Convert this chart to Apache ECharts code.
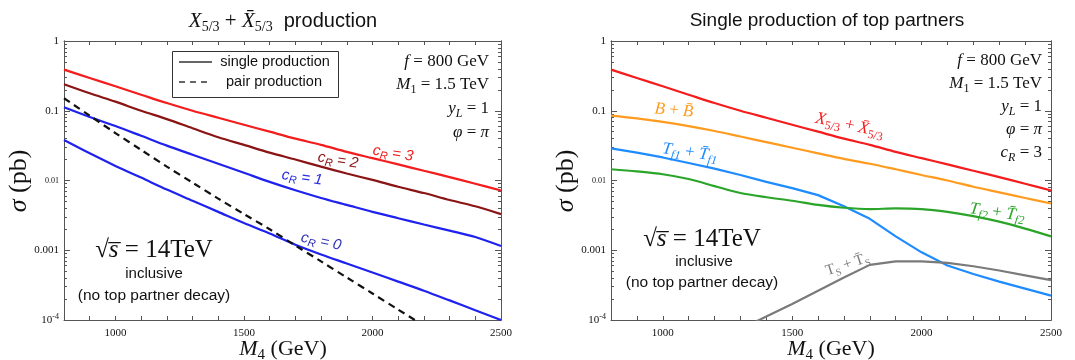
<!DOCTYPE html>
<html>
<head>
<meta charset="utf-8">
<script src="https://cdn.jsdelivr.net/npm/echarts@6/dist/echarts.min.js"></script>
<style>
  html, body { margin: 0; padding: 0; background: #fff; }
  #chart { width: 1075px; height: 360px; }
</style>
</head>
<body>
<div id="chart"></div>
<script>
// Heavy top-partner mass M4 (GeV)
const massGeV = [800, 900, 1000, 1100, 1200, 1300, 1400, 1500, 1600, 1700, 1800, 1900, 2000, 2100, 2200, 2300, 2400, 2500];

// X5/3 + anti-X5/3 single production cross sections (pb) for c_R = 3, 2, 1, 0
const xSingleCR3 = [0.389, 0.295, 0.224, 0.170, 0.129, 0.100, 0.0794, 0.0631, 0.0501, 0.0398, 0.0324, 0.0257, 0.0209, 0.0170, 0.0138, 0.0112, 0.0090, 0.0072];
const xSingleCR2 = [0.240, 0.178, 0.135, 0.100, 0.0759, 0.0562, 0.0417, 0.0324, 0.0251, 0.0200, 0.0158, 0.0126, 0.0102, 0.00813, 0.00661, 0.00525, 0.00427, 0.00330];
const xSingleCR1 = [0.112, 0.0813, 0.0603, 0.0437, 0.0316, 0.0234, 0.0174, 0.0129, 0.00955, 0.00724, 0.00562, 0.00447, 0.00355, 0.00288, 0.00234, 0.00191, 0.00155, 0.00115];
const xSingleCR0 = [0.0380, 0.0245, 0.0162, 0.0110, 0.00741, 0.00513, 0.00355, 0.00245, 0.00174, 0.00120, 0.000871, 0.000646, 0.000479, 0.000355, 0.000263, 0.000191, 0.000138, 0.000100];
// X5/3 pair production (pb)
const xPair = [0.151, 0.0851, 0.0479, 0.0275, 0.0158, 0.00933, 0.00550, 0.00331, 0.00200, 0.00117, 0.000692, 0.000407, 0.000240, 0.000141, 0.0000832, null, null, null];

// Single production of the other partners (pb), c_R = 3
const bSingle = [0.0851, 0.0776, 0.0692, 0.0603, 0.0513, 0.0427, 0.0355, 0.0295, 0.0245, 0.0204, 0.0174, 0.0145, 0.0120, 0.0100, 0.00813, 0.00676, 0.00562, 0.00468];
const tf1Single = [0.0288, 0.0251, 0.0214, 0.0178, 0.0148, 0.0120, 0.00955, 0.00776, 0.00617, 0.00427, 0.00282, 0.00158, 0.000933, 0.000603, 0.000457, 0.000355, 0.000282, 0.000224];
const tf2Single = [0.0145, 0.0135, 0.0123, 0.0105, 0.00832, 0.00661, 0.00575, 0.00513, 0.00447, 0.00407, 0.00389, 0.00398, 0.00389, 0.00355, 0.00309, 0.00257, 0.00204, 0.00158];
const tsSingle = [null, null, null, null, null, 0.000074, 0.000112, 0.000170, 0.000263, 0.000407, 0.000617, 0.000692, 0.000692, 0.000661, 0.000589, 0.000513, 0.000437, 0.000372];

// Axis ticks
const xTickLabels = [1000, 1500, 2000, 2500];
const yTickValues = [1e-4, 1e-3, 1e-2, 1e-1, 1];

const yMinorTicks = [];
for (let k = -4; k < 0; k++) {
  for (let d = 2; d <= 9; d++) yMinorTicks.push(d * Math.pow(10, k));
}

const SERIF = 'Liberation Serif';
const SANS = 'Liberation Sans';
const FRAME = '#555';

const COLORS = {
  cr3: '#f41c1c',
  cr2: '#8a1414',
  cr1: '#1f22ee',
  cr0: '#1f22ee',
  pair: '#111111',
  b: '#ff9b1e',
  tf1: '#1e8bff',
  tf2: '#2aa52a',
  ts: '#7a7a7a'
};

function pairs(values) {
  return massGeV.map((m, i) => [m, values[i]]);
}

function yLabelFormatter(v) {
  const e = Math.round(Math.log10(v));
  if (e === 0) return '1';
  if (e === -1) return '0.1';
  if (e === -2) return '{sm|0.01}';
  if (e === -3) return '0.001';
  return '{b|10}{sup|-4}';
}

function xAxesFor(g) {
  const common = {
    gridIndex: g, type: 'value', min: 800, max: 2500, interval: 100,
    axisLine: { show: true, onZero: false, lineStyle: { color: FRAME, width: 1 } },
    axisTick: { show: true, inside: true, length: 4, lineStyle: { color: FRAME } },
    splitLine: { show: false }
  };
  return [
    Object.assign({}, common, {
      position: 'bottom',
      axisLabel: {
        customValues: xTickLabels, formatter: v => String(Math.round(v)),
        fontFamily: SERIF, fontSize: 11, color: '#111', margin: 8
      }
    }),
    Object.assign({}, common, { position: 'top', axisLabel: { show: false } })
  ];
}

function yAxesFor(g) {
  const common = {
    gridIndex: g, type: 'log', logBase: 10, min: 1e-4, max: 1,
    axisLine: { show: true, onZero: false, lineStyle: { color: FRAME, width: 1 } },
    splitLine: { show: false }
  };
  const major = { show: true, inside: true, length: 6, customValues: yTickValues, lineStyle: { color: FRAME } };
  const minor = { show: true, inside: true, length: 3, customValues: yMinorTicks, lineStyle: { color: FRAME } };
  return [
    Object.assign({}, common, {
      position: 'left', axisTick: major,
      axisLabel: {
        customValues: yTickValues, formatter: yLabelFormatter, margin: 5,
        fontFamily: SERIF, fontSize: 11, color: '#111',
        rich: {
          sm: { fontFamily: SERIF, fontSize: 8, color: '#111' },
          b: { fontFamily: SERIF, fontSize: 11, color: '#111', lineHeight: 14 },
          sup: { fontFamily: SERIF, fontSize: 8, color: '#111', lineHeight: 8, verticalAlign: 'top' }
        }
      }
    }),
    Object.assign({}, common, { position: 'left', axisTick: minor, axisLabel: { show: false } }),
    Object.assign({}, common, { position: 'right', axisTick: major, axisLabel: { show: false } }),
    Object.assign({}, common, { position: 'right', axisTick: minor, axisLabel: { show: false } })
  ];
}

function curve(g, name, values, color, dashed, smooth) {
  return {
    type: 'line', name: name,
    xAxisIndex: g * 2, yAxisIndex: g * 4,
    data: pairs(values),
    symbol: 'none', showSymbol: false,
    smooth: smooth === undefined ? 0.3 : smooth,
    clip: true, silent: true,
    lineStyle: { color: color, width: 2.2, type: dashed ? [7, 5] : 'solid' },
    z: dashed ? 4 : 3
  };
}

const chart = echarts.init(document.getElementById('chart'), null, { renderer: 'canvas' });

chart.setOption({
  animation: false,
  backgroundColor: '#ffffff',
  grid: [
    { left: 64, top: 41, width: 437, height: 279, outerBoundsMode: 'none', containLabel: false },
    { left: 611, top: 41, width: 440, height: 279, outerBoundsMode: 'none', containLabel: false }
  ],
  xAxis: xAxesFor(0).concat(xAxesFor(1)),
  yAxis: yAxesFor(0).concat(yAxesFor(1)),
  series: [
    curve(0, 'c_R = 3', xSingleCR3, COLORS.cr3),
    curve(0, 'c_R = 2', xSingleCR2, COLORS.cr2),
    curve(0, 'c_R = 1', xSingleCR1, COLORS.cr1),
    curve(0, 'c_R = 0', xSingleCR0, COLORS.cr0),
    curve(0, 'pair production', xPair, COLORS.pair, true),
    curve(1, 'X5/3', xSingleCR3, COLORS.cr3),
    curve(1, 'B', bSingle, COLORS.b),
    curve(1, 'Tf1', tf1Single, COLORS.tf1, false, 0),
    curve(1, 'Tf2', tf2Single, COLORS.tf2),
    curve(1, 'Ts', tsSingle, COLORS.ts, false, 0)
  ]
});

// ---- text annotations ----
function mathRich(size, color) {
  const small = Math.round(size * 0.68);
  return {
    i: { fontFamily: SERIF, fontStyle: 'italic', fontSize: size, fill: color, lineHeight: size + 5 },
    r: { fontFamily: SERIF, fontSize: size, fill: color, lineHeight: size + 5 },
    sub: { fontFamily: SERIF, fontSize: small, fill: color, lineHeight: small, verticalAlign: 'bottom' },
    subi: { fontFamily: SERIF, fontStyle: 'italic', fontSize: small, fill: color, lineHeight: small, verticalAlign: 'bottom' },
    s: { fontFamily: SANS, fontSize: size - 1, fill: color, lineHeight: size + 5 }
  };
}

function text(x, y, str, rich, align, rotationDeg) {
  return {
    type: 'text', x: x, y: y, silent: true,
    rotation: (rotationDeg || 0) * Math.PI / 180,
    style: { text: str, rich: rich, align: align || 'center', verticalAlign: 'middle' },
    z: 10
  };
}

function plain(x, y, str, size, font, align) {
  return {
    type: 'text', x: x, y: y, silent: true,
    style: { text: str, fontFamily: font || SANS, fontSize: size, fill: '#111', align: align || 'center', verticalAlign: 'middle' },
    z: 10
  };
}

// label placed at a data point of the given panel
function curveLabel(g, m, v, str, size, color, rot, italicSans) {
  const p = chart.convertToPixel({ xAxisIndex: g * 2, yAxisIndex: g * 4 }, [m, v]);
  let rich = mathRich(size, color);
  if (italicSans) {
    const small = Math.round(size * 0.7);
    rich = {
      c: { fontFamily: SANS, fontStyle: 'italic', fontSize: size, fill: color, lineHeight: size + 4 },
      sub: { fontFamily: SANS, fontStyle: 'italic', fontSize: small, fill: color, lineHeight: small, verticalAlign: 'bottom' }
    };
  }
  return text(p[0], p[1], str, rich, 'center', rot);
}

const params = mathRich(17, '#111');
const graphics = [
  // panel titles
  text(283, 21, '{i|X}{sub|5/3}{r| + }{i|X̄}{sub|5/3}{s|  production}', mathRich(21, '#111')),
  plain(827, 21, 'Single production of top partners', 19, SANS),

  // axis titles
  text(19, 181, '{i|σ}{r| (pb)}', mathRich(26, '#111'), 'center', 90),
  text(566, 181, '{i|σ}{r| (pb)}', mathRich(26, '#111'), 'center', 90),
  text(283, 349, '{i|M}{sub|4}{r| (GeV)}', mathRich(22, '#111')),
  text(831, 349, '{i|M}{sub|4}{r| (GeV)}', mathRich(22, '#111')),

  // legend box
  { type: 'rect', silent: true, shape: { x: 172.5, y: 51.5, width: 166, height: 46 }, style: { fill: '#fff', stroke: '#333', lineWidth: 1 }, z: 9 },
  { type: 'line', silent: true, shape: { x1: 179, y1: 62, x2: 212, y2: 62 }, style: { stroke: '#666', lineWidth: 2 }, z: 10 },
  { type: 'line', silent: true, shape: { x1: 179, y1: 82, x2: 212, y2: 82 }, style: { stroke: '#666', lineWidth: 2, lineDash: [6, 5] }, z: 10 },
  plain(275, 62, 'single production', 14.5, SANS),
  plain(274, 82, 'pair production', 14.5, SANS),

  // model parameters, left panel
  text(489, 62, '{i|f}{r| = 800 GeV}', params, 'right'),
  text(489, 85, '{i|M}{sub|1}{r| = 1.5 TeV}', params, 'right'),
  text(489, 109, '{i|y}{subi|L}{r| = 1}', params, 'right'),
  text(489, 133, '{i|φ}{r| = }{i|π}', params, 'right'),

  // model parameters, right panel
  text(1042, 61, '{i|f}{r| = 800 GeV}', params, 'right'),
  text(1042, 84, '{i|M}{sub|1}{r| = 1.5 TeV}', params, 'right'),
  text(1042, 107, '{i|y}{subi|L}{r| = 1}', params, 'right'),
  text(1042, 130, '{i|φ}{r| = }{i|π}', params, 'right'),
  text(1042, 153, '{i|c}{subi|R}{r| = 3}', params, 'right'),

  // collider setup, left panel
  text(154, 250, '{r|√}{i|s̅}{r| = 14TeV}', mathRich(25, '#111')),
  plain(154, 274, 'inclusive', 15, SANS),
  plain(154, 296, '(no top partner decay)', 15.5, SANS),

  // collider setup, right panel
  text(702, 239, '{r|√}{i|s̅}{r| = 14TeV}', mathRich(25, '#111')),
  plain(704, 262, 'inclusive', 15, SANS),
  plain(702, 283, '(no top partner decay)', 15.5, SANS)
];

// curve labels
graphics.push(
  curveLabel(0, 2080, 0.0244, '{c|c}{sub|R}{c| = 3}', 15, COLORS.cr3, -9, true),
  curveLabel(0, 1866, 0.0194, '{c|c}{sub|R}{c| = 2}', 15, COLORS.cr2, -9, true),
  curveLabel(0, 1726, 0.0110, '{c|c}{sub|R}{c| = 1}', 15, '#2a2ee0', -8, true),
  curveLabel(0, 1800, 0.00133, '{c|c}{sub|R}{c| = 0}', 15, '#3030b8', -12, true),
  curveLabel(1, 1043, 0.101, '{i|B}{r| + }{i|B̄}', 17, COLORS.b, -5),
  curveLabel(1, 1105, 0.0252, '{i|T}{subi|f1}{r| + }{i|T̄}{subi|f1}', 17, COLORS.tf1, -8),
  curveLabel(1, 1722, 0.0615, '{i|X}{sub|5/3}{r| + }{i|X̄}{sub|5/3}', 17, COLORS.cr3, -12),
  curveLabel(1, 2292, 0.00348, '{i|T}{subi|f2}{r| + }{i|T̄}{subi|f2}', 17, COLORS.tf2, -8),
  curveLabel(1, 1714, 0.000624, '{r|T}{sub|S}{r| + }{r|T̄}{sub|S}', 15, COLORS.ts, 18)
);

chart.setOption({ graphic: graphics });
</script>
</body>
</html>
